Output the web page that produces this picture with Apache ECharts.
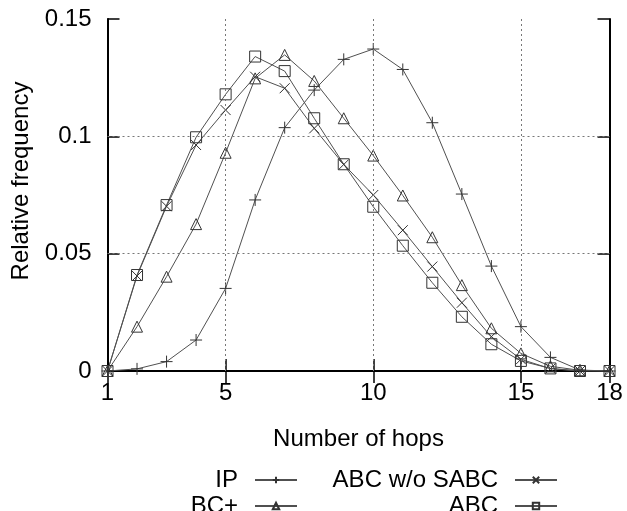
<!DOCTYPE html>
<html><head><meta charset="utf-8">
<script src="https://cdn.jsdelivr.net/npm/echarts@6/dist/echarts.min.js"></script>
<style>html,body{margin:0;padding:0;background:#fff}#c{width:627px;height:511px}</style>
</head><body><div id="c"></div>
<script>
const hops = [1,2,3,4,5,6,7,8,9,10,11,12,13,14,15,16,17,18];
const ipVals = [0,0.0009,0.004,0.0132,0.0352,0.0729,0.1037,0.1197,0.1328,0.1372,0.1285,0.1058,0.0754,0.0447,0.0189,0.0058,0.0004,0];
const bcPlusVals = [0,0.0189,0.0402,0.0626,0.093,0.1247,0.1347,0.1236,0.1077,0.0918,0.0748,0.057,0.0366,0.0182,0.0075,0.002,0.0003,0];
const abcNoSabcVals = [0,0.0405,0.0702,0.0963,0.1112,0.1254,0.1205,0.1034,0.088,0.075,0.060,0.0445,0.0291,0.0146,0.005,0.001,0,0];
const abcVals = [0,0.0409,0.0707,0.0996,0.1179,0.134,0.1278,0.1077,0.0881,0.070,0.0534,0.0376,0.0231,0.0114,0.0043,0.0011,0,0];
const xTicks = [1,5,10,15,18];
const yTicks = [0,0.05,0.1,0.15];
const xGrid = [5,10,15];
const yGrid = [0.05,0.1];

const FONT = 'Liberation Sans';
const FS = 24;
const pts = a => a.map((v,i)=>[hops[i], v]);
const lineCol = '#505050';
const symCol = '#333';
function mk(name, data, symbol, size){
  return {
    name, type:'line', data: pts(data), symbol, symbolSize:size,
    lineStyle:{color:lineCol, width:1},
    itemStyle:{color:'none', borderColor:symCol, borderWidth:1},
    z:3, animation:false
  };
}
const series = [
  mk('IP', ipVals, 'path://M0,6H12M6,0V12', 12),
  mk('BC+', bcPlusVals, 'path://M5,0L10,8.66H0Z', 11),
  mk('ABC w/o SABC', abcNoSabcVals, 'path://M0,0L10,10M10,0L0,10', 10),
  mk('ABC', abcVals, 'path://M0,0H10V10H0Z', 11)
];
series.push({
  type:'line', data:[], silent:true,
  markLine:{
    symbol:'none', silent:true, animation:false, label:{show:false},
    lineStyle:{color:'#777', type:[2,3], width:1},
    data: xGrid.map(v=>({xAxis:v})).concat(yGrid.map(v=>({yAxis:v})))
  }
});
function leg(name, right, top){
  return {
    data:[name], right, top, align:'right', itemWidth:42, itemHeight:8,
    padding:0, selectedMode:false,
    textStyle:{fontFamily:FONT, fontSize:FS, color:'#000', padding:[0,12,0,0]}
  };
}
const tick = {show:true, inside:true, length:12, lineStyle:{color:'#000', width:1.5}};
const axLine = {show:true, lineStyle:{color:'#000', width:2}};
const chart = echarts.init(document.getElementById('c'));
chart.setOption({
  animation:false,
  grid:{left:107.5, right:17.5, top:19, bottom:140},
  xAxis:[{
    type:'value', min:1, max:18, position:'bottom',
    axisLine:axLine,
    axisTick:Object.assign({customValues:xTicks}, tick),
    axisLabel:{customValues:xTicks, fontFamily:FONT, fontSize:FS, color:'#000', margin:10},
    splitLine:{show:false},
    name:'Number of hops', nameLocation:'middle', nameGap:56,
    nameTextStyle:{fontFamily:FONT, fontSize:FS, color:'#000'}
  },{
    type:'value', min:1, max:18, position:'top',
    axisLine:axLine,
    axisTick:Object.assign({customValues:xTicks}, tick),
    axisLabel:{show:false}, splitLine:{show:false}
  }],
  yAxis:[{
    type:'value', min:0, max:0.15, interval:0.05, position:'left',
    axisLine:axLine, axisTick:tick,
    axisLabel:{fontFamily:FONT, fontSize:FS, color:'#000', margin:16},
    splitLine:{show:false},
    name:'Relative frequency', nameLocation:'middle', nameGap:74,
    nameTextStyle:{fontFamily:FONT, fontSize:FS, color:'#000', padding:[0,0,0,28]}
  },{
    type:'value', min:0, max:0.15, interval:0.05, position:'right',
    axisLine:axLine, axisTick:tick,
    axisLabel:{show:false}, splitLine:{show:false}
  }],
  legend:[
    leg('IP', 329, 468),
    leg('BC+', 329, 494),
    leg('ABC w/o SABC', 69, 468),
    leg('ABC', 69, 494)
  ],
  series
});
</script></body></html>
